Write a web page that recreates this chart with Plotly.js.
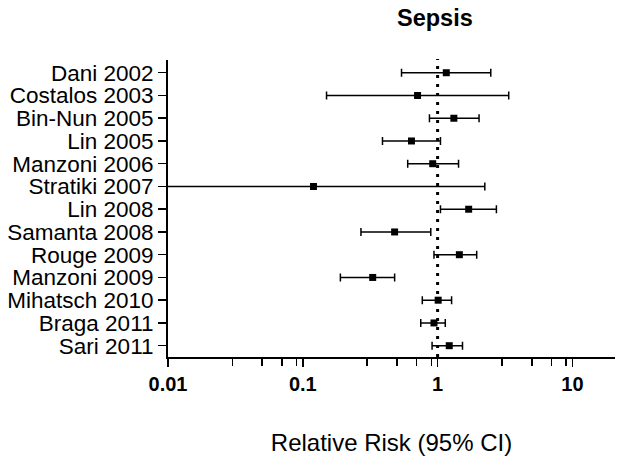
<!DOCTYPE html>
<html>
<head>
<meta charset="utf-8">
<script src="https://cdn.plot.ly/plotly-3.0.1.min.js"></script>
<style>
  html, body { margin: 0; padding: 0; background: #fff; }
  #chart { width: 624px; height: 466px; }
</style>
</head>
<body>
<div id="chart"></div>
<script>
// studies, top to bottom
const studies = [
  "Dani 2002", "Costalos 2003", "Bin-Nun 2005", "Lin 2005", "Manzoni 2006",
  "Stratiki 2007", "Lin 2008", "Samanta 2008", "Rouge 2009", "Manzoni 2009",
  "Mihatsch 2010", "Braga 2011", "Sari 2011"
];
const rr    = [1.16, 0.71, 1.32, 0.64, 0.92, 0.12, 1.70, 0.48, 1.45, 0.33, 1.01, 0.94, 1.22];
const lower = [0.54, 0.15, 0.87, 0.39, 0.60, 0.005, 1.05, 0.27, 0.94, 0.19, 0.77, 0.75, 0.91];
const upper = [2.48, 3.37, 2.03, 1.05, 1.43, 2.24, 2.73, 0.89, 1.95, 0.48, 1.27, 1.14, 1.53];

// x axis ticks
const majorTicks = [0.01, 0.1, 1, 10];
const majorText = ["0.01", "0.1", "1", "10"];
const minorTicks = [0.03, 0.05, 0.07, 0.09, 0.3, 0.5, 0.7, 0.9, 3, 5, 7, 9];

const n = studies.length;
const ypos = studies.map((s, i) => n - 1 - i);

const trace = {
  x: rr,
  y: ypos,
  type: "scatter",
  mode: "markers",
  marker: { symbol: "square", size: 7, color: "#000" },
  error_x: {
    type: "data",
    symmetric: false,
    array: upper.map((u, i) => u - rr[i]),
    arrayminus: lower.map((l, i) => rr[i] - l),
    color: "#000",
    thickness: 1.5,
    width: 4
  },
  cliponaxis: true,
  hoverinfo: "skip"
};

const layout = {
  width: 624,
  height: 466,
  margin: { l: 168, r: 9, t: 60, b: 109 },
  paper_bgcolor: "#fff",
  plot_bgcolor: "#fff",
  showlegend: false,
  font: { family: "Liberation Sans, Arial, sans-serif", color: "#000" },
  xaxis: {
    type: "log",
    range: [-2, 1.316],
    tickmode: "array",
    tickvals: majorTicks,
    ticktext: majorText,
    ticks: "outside",
    ticklen: 8,
    tickwidth: 1.5,
    tickcolor: "#000",
    minor: {
      tickmode: "array",
      tickvals: minorTicks,
      ticks: "outside",
      ticklen: 7,
      tickwidth: 1.5,
      tickcolor: "#000",
      showgrid: false
    },
    showline: true,
    linecolor: "#000",
    linewidth: 2,
    showgrid: false,
    zeroline: false,
    tickfont: { size: 20, weight: "bold" },
    title: { text: "Relative Risk (95% CI)", font: { size: 24 }, standoff: 40 }
  },
  yaxis: {
    range: [-0.497, 12.56],
    tickvals: ypos,
    ticktext: studies,
    ticks: "outside",
    ticklen: 8,
    tickwidth: 1.5,
    tickcolor: "#000",
    showline: true,
    linecolor: "#000",
    linewidth: 2,
    showgrid: false,
    zeroline: false,
    tickfont: { size: 22.5 }
  },
  shapes: [{
    type: "line",
    xref: "x", yref: "paper",
    x0: 1, x1: 1, y0: 0, y1: 1.003,
    line: { color: "#000", width: 3, dash: "3px,6px" }
  }],
  annotations: [{
    text: "<b>Sepsis</b>",
    xref: "paper", yref: "paper",
    x: 0.597, y: 1.14,
    xanchor: "center", yanchor: "middle",
    showarrow: false,
    font: { size: 23.5 }
  }]
};

Plotly.newPlot("chart", [trace], layout, { displayModeBar: false, staticPlot: true });
</script>
</body>
</html>
